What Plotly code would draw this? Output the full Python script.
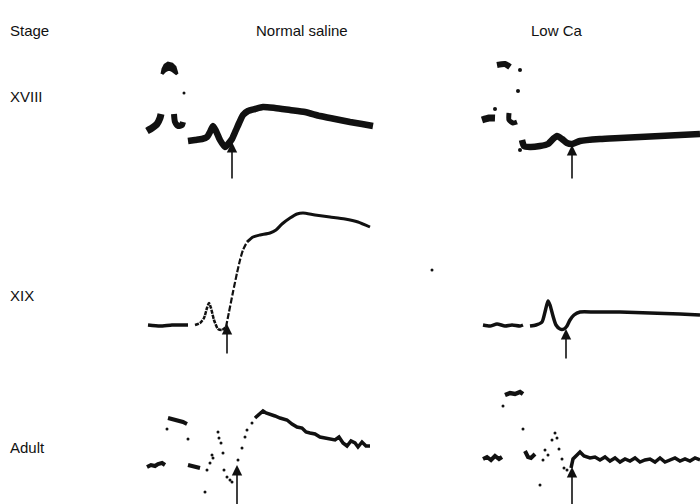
import plotly.graph_objects as go

# ---------------- data (time in ms-like units, amplitude in arbitrary units) -------------
# Panel 1: stage XVIII, normal saline
p1_main_t = [48, 55, 62, 67, 70, 73, 76, 80, 85, 89, 92, 96, 100, 103, 108, 115, 123, 135, 150, 165, 180, 195, 210, 222, 233]
p1_main_v = [44, 45, 46, 48, 53, 59, 54, 45, 38, 42, 46, 55, 64, 70, 74, 76, 78, 77, 75, 73, 69, 66, 63, 61, 59]
p1_cap_t = [22, 23, 25, 28, 32, 35, 37, 33, 29, 25, 22]
p1_cap_v = [111, 116, 120, 122, 121, 118, 111, 114, 116, 114, 111]
p1_blobA_t = [7, 12, 17, 20, 21]
p1_blobA_v = [54, 57, 61, 67, 71]
p1_blobB_t = [34, 35, 38, 42, 43]
p1_blobB_v = [71, 63, 59, 60, 63]
p1_dot_t = [44]
p1_dot_v = [92]
p1_arrow = (92, 43)

# Panel 2: stage XVIII, low Ca
p2_main_t = [47, 49, 55, 65, 73, 78, 82, 87, 92, 97, 105, 125, 145, 165, 185, 205, 225]
p2_main_v = [45, 39, 38, 39, 41, 46, 49, 46, 42, 41, 44, 46, 47, 48, 49, 50, 51]
p2_bar_t = [22, 30, 35]
p2_bar_v = [120, 121, 118]
p2_blobA_t = [7, 14, 20]
p2_blobA_v = [65, 67, 67]
p2_blobB_t = [34, 34, 38, 42]
p2_blobB_v = [72, 65, 62, 63]
p2_dot_t = [45, 43, 20, 45]
p2_dot_v = [115, 94, 76, 35]
p2_arrow = (97, 40)

# Panel 3: stage XIX, normal saline
p3_base_t = [8, 20, 32, 45, 48]
p3_base_v = [35, 34, 35, 35, 35]
p3_early_t = [55, 60, 64, 67, 69, 71, 74, 78, 82, 86]
p3_early_v = [35, 37, 42, 52, 57, 52, 40, 31, 30, 33]
p3_rise_t = [86, 89, 93, 97, 100, 103, 107]
p3_rise_v = [33, 48, 68, 87, 100, 110, 118]
p3_late_t = [107, 113, 120, 130, 136, 142, 150, 157, 163, 175, 190, 205, 218, 230]
p3_late_v = [118, 123, 125, 127, 130, 136, 142, 146, 147, 145, 143, 141, 138, 133]
p3_dot_t = [292]
p3_dot_v = [90]
p3_arrow = (87, 36)

# Panel 4: stage XIX, low Ca
p4_base_t = [8, 15, 22, 30, 37, 45, 48]
p4_base_v = [35, 34, 36, 34, 35, 34, 35]
p4_main_t = [55, 61, 67, 70, 73, 75, 78, 81, 85, 89, 92, 95, 99, 105, 120, 145, 175, 205, 225]
p4_main_v = [34, 35, 38, 48, 59, 55, 44, 35, 31, 31, 34, 40, 45, 48, 48, 48, 47, 46, 45]
p4_arrow = (91, 31)

# Panel 5: adult, normal saline
p5_blobA_t = [7, 11, 15, 18, 22, 25]
p5_blobA_v = [37, 39, 38, 40, 41, 39]
p5_upper_t = [28, 33, 38, 43, 47]
p5_upper_v = [86, 85, 84, 82, 80]
p5_blobB_t = [48, 52, 56, 60]
p5_blobB_v = [39, 38, 37, 36]
p5_dots_t = [27, 48, 65, 67, 70, 72, 73, 78, 79, 81, 83, 84, 87, 90, 92, 98, 102, 105, 107, 112]
p5_dots_v = [75, 65, 12, 34, 41, 49, 46, 72, 66, 61, 51, 34, 27, 24, 22, 44, 56, 67, 74, 81]
p5_main_t = [115, 119, 123, 126, 130, 135, 140, 147, 152, 157, 162, 166, 170, 175, 180, 185, 190, 195, 199, 203, 207, 211, 215, 218, 222, 226, 230]
p5_main_v = [86, 90, 93, 91, 90, 88, 86, 84, 80, 77, 76, 72, 71, 70, 67, 66, 65, 64, 67, 61, 58, 63, 61, 57, 62, 58, 58]
p5_arrow = (97, 39)

# Panel 6: adult, low Ca
p6_blobA_t = [8, 12, 16, 20, 24, 27]
p6_blobA_v = [45, 47, 44, 48, 45, 47]
p6_upper_t = [30, 35, 40, 45, 48]
p6_upper_v = [109, 111, 110, 112, 110]
p6_blobB_t = [50, 53, 56, 60]
p6_blobB_v = [53, 47, 46, 50]
p6_dots_t = [28, 48, 65, 68, 70, 73, 77, 80, 82, 84, 87, 89, 92, 95]
p6_dots_v = [98, 75, 19, 44, 54, 49, 64, 71, 66, 55, 45, 36, 34, 29]
p6_main_t = [96, 98, 102, 105, 109, 115, 120, 125, 130, 135, 140, 145, 150, 155, 160, 165, 170, 175, 180, 185, 190, 195, 200, 205, 210, 215, 220, 225]
p6_main_v = [36, 45, 49, 52, 48, 46, 47, 44, 47, 43, 46, 42, 45, 43, 46, 42, 44, 45, 42, 46, 42, 44, 46, 43, 45, 43, 46, 44]
p6_arrow = (97, 37)

column_titles = ["Normal saline", "Low Ca"]
stage_labels = ["XVIII", "XIX", "Adult"]
corner_label = "Stage"

# ---------------- layout geometry (pixels) ----------------
W, H = 700, 504
col_px = [(140, 470), (475, 700)]
row_px = [(55, 185), (195, 360), (380, 504)]  # top, bottom

fig = go.Figure()
layout_axes = {}
panel = 0
axis_names = []
for r, (top, bot) in enumerate(row_px):
    for c, (left, right) in enumerate(col_px):
        panel += 1
        xa = "xaxis" if panel == 1 else f"xaxis{panel}"
        ya = "yaxis" if panel == 1 else f"yaxis{panel}"
        xr = "x" if panel == 1 else f"x{panel}"
        yr = "y" if panel == 1 else f"y{panel}"
        layout_axes[xa] = dict(domain=[left / W, right / W], range=[0, right - left],
                               visible=False, fixedrange=True, anchor=yr)
        layout_axes[ya] = dict(domain=[1 - bot / H, 1 - top / H], range=[0, bot - top],
                               visible=False, fixedrange=True, anchor=xr)
        axis_names.append((xr, yr))

BLACK = "#111111"


def line(p, t, v, w, shape="spline", fill=None, dash="solid"):
    xr, yr = axis_names[p - 1]
    fig.add_trace(go.Scatter(x=t, y=v, xaxis=xr, yaxis=yr, mode="lines",
                             line=dict(color=BLACK, width=w, shape=shape, smoothing=0.6, dash=dash),
                             fill=fill, fillcolor=BLACK,
                             showlegend=False, hoverinfo="skip", cliponaxis=False))


def dots(p, t, v, s):
    xr, yr = axis_names[p - 1]
    fig.add_trace(go.Scatter(x=t, y=v, xaxis=xr, yaxis=yr, mode="markers",
                             marker=dict(color=BLACK, size=s),
                             showlegend=False, hoverinfo="skip", cliponaxis=False))


annotations = []


def arrow(p, tip, tail_v):
    xr, yr = axis_names[p - 1]
    annotations.append(dict(x=tip[0], y=tip[1], ax=tip[0], ay=tail_v, xref=xr, yref=yr,
                            axref=xr, ayref=yr, showarrow=True, arrowhead=2, arrowsize=1.3,
                            arrowwidth=1.6, arrowcolor=BLACK, text=""))


# panel 1
line(1, p1_main_t, p1_main_v, 6.5)
line(1, p1_cap_t, p1_cap_v, 3, "linear", fill="toself")
line(1, p1_blobA_t, p1_blobA_v, 7)
line(1, p1_blobB_t, p1_blobB_v, 6)
dots(1, p1_dot_t, p1_dot_v, 3)
arrow(1, p1_arrow, 5)

# panel 2
line(2, p2_main_t, p2_main_v, 6.5)
line(2, p2_bar_t, p2_bar_v, 6)
line(2, p2_blobA_t, p2_blobA_v, 7)
line(2, p2_blobB_t, p2_blobB_v, 5)
dots(2, p2_dot_t, p2_dot_v, 4)
arrow(2, p2_arrow, 5)

# panel 3
line(3, p3_base_t, p3_base_v, 3.5)
line(3, p3_early_t, p3_early_v, 2.5, dash="4px,1px")
line(3, p3_rise_t, p3_rise_v, 2.2, dash="6px,2px")
line(3, p3_late_t, p3_late_v, 3)
dots(3, p3_dot_t, p3_dot_v, 3)
arrow(3, p3_arrow, 5)

# panel 4
line(4, p4_base_t, p4_base_v, 3.5)
line(4, p4_main_t, p4_main_v, 3.5)
arrow(4, p4_arrow, 0)

# panel 5
line(5, p5_blobA_t, p5_blobA_v, 4, "linear")
line(5, p5_upper_t, p5_upper_v, 4, "linear")
line(5, p5_blobB_t, p5_blobB_v, 4, "linear")
dots(5, p5_dots_t, p5_dots_v, 3)
line(5, p5_main_t, p5_main_v, 3.5, "linear")
arrow(5, p5_arrow, -5)

# panel 6
line(6, p6_blobA_t, p6_blobA_v, 4, "linear")
line(6, p6_upper_t, p6_upper_v, 4.5, "linear")
line(6, p6_blobB_t, p6_blobB_v, 4, "linear")
dots(6, p6_dots_t, p6_dots_v, 3)
line(6, p6_main_t, p6_main_v, 3.5, "linear")
arrow(6, p6_arrow, -5)

FONT = dict(family="Liberation Sans, Arial, Helvetica, sans-serif", size=15, color=BLACK)
annotations.append(dict(x=8 / W, y=1 - 30 / H, xref="paper", yref="paper", text=corner_label,
                        showarrow=False, xanchor="left", yanchor="middle", font=FONT))
for txt, cx in zip(column_titles, [302 / W, 557 / W]):
    annotations.append(dict(x=cx, y=1 - 30 / H, xref="paper", yref="paper", text=txt,
                            showarrow=False, xanchor="center", yanchor="middle", font=FONT))
for txt, cy in zip(stage_labels, [97, 295, 447]):
    annotations.append(dict(x=8 / W, y=1 - cy / H, xref="paper", yref="paper", text=txt,
                            showarrow=False, xanchor="left", yanchor="middle", font=FONT))

fig.update_layout(width=W, height=H, margin=dict(l=0, r=0, t=0, b=0),
                  paper_bgcolor="white", plot_bgcolor="white",
                  annotations=annotations, showlegend=False, **layout_axes)

fig.write_html("out.html", config={"displayModeBar": False},
               post_script="document.body.style.margin='0';")
